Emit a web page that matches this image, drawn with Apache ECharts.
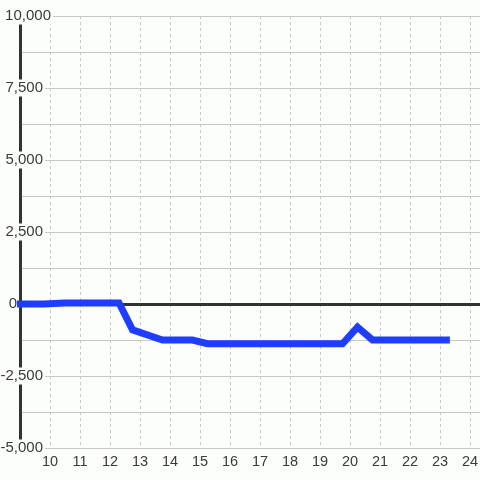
<!DOCTYPE html>
<html><head><meta charset="utf-8">
<script src="https://cdn.jsdelivr.net/npm/echarts@6/dist/echarts.min.js"></script>
<style>html,body{margin:0;padding:0;background:#fcfefc}#c{width:480px;height:480px}</style>
</head><body><div id="c"></div>
<script>
const xValues = [8.9, 9.8, 10.5, 12.3, 12.75, 13.75, 14.75, 15.25, 19.75, 20.25, 20.75, 23.33];
const yValues = [0, 0, 35, 35, -900, -1250, -1250, -1380, -1380, -800, -1250, -1250];
const yTickValues = [-5000, -2500, 0, 2500, 5000, 7500, 10000];
const yTickLabels = ['-5,000', '-2,500', '0', '2,500', '5,000', '7,500', '10,000'];

const bg = '#fcfefc';
const font = "'Liberation Sans', Arial, sans-serif";
const chart = echarts.init(document.getElementById('c'), null, {renderer: 'canvas'});
const rich = {
  t: {fontSize: 15, fontFamily: font, color: '#3a3a3a', backgroundColor: bg, padding: [1, 2, 1, 1]},
  s8: {width: 8, fontSize: 15, fontFamily: font},
  s36: {width: 34, fontSize: 15, fontFamily: font}
};
chart.setOption({
  backgroundColor: bg,
  animation: false,
  grid: {left: 20, right: 0, top: 16, bottom: 32, containLabel: false, outerBoundsMode: 'none'},
  xAxis: [{
    type: 'value', min: 9, max: 24.3333, interval: 1, position: 'bottom',
    axisLine: {show: false, onZero: false},
    axisTick: {show: false},
    axisLabel: {showMinLabel: false, showMaxLabel: false, margin: 6, fontSize: 14.5,
      fontFamily: font, color: '#3a3a3a'},
    splitLine: {show: true, lineStyle: {type: [3, 3], color: '#c8c8c8', width: 1}}
  }, {
    type: 'value', min: 9, max: 24.3333, interval: 1, position: 'bottom', z: 1.5,
    axisLine: {show: true, onZero: true, onZeroAxisIndex: 0, lineStyle: {color: '#333', width: 3}},
    axisTick: {show: false}, axisLabel: {show: false}, splitLine: {show: false}
  }],
  yAxis: {
    type: 'value', min: -5000, max: 10000, interval: 2500, z: 1,
    axisLine: {show: true, onZero: false, lineStyle: {color: '#333', width: 3}},
    axisTick: {show: false},
    minorTick: {show: false, splitNumber: 2},
    splitLine: {show: true, lineStyle: {color: '#c8c8c8', width: 1}},
    minorSplitLine: {show: true, lineStyle: {color: '#c8c8c8', width: 1}},
    axisLabel: {
      margin: -33,
      formatter: function (v) {
        const i = yTickValues.indexOf(v);
        const s = i >= 0 ? yTickLabels[i] : '';
        if (v === 10000) return '{t|' + s + '}';
        if (v === 0) return '{t|' + s + '}{s36| }';
        return '{t|' + s + '}{s8| }';
      },
      rich: rich
    }
  },
  series: [{
    type: 'line', xAxisIndex: 0, yAxisIndex: 0, clip: false,
    data: xValues.map((x, i) => [x, yValues[i]]),
    showSymbol: false, symbol: 'none',
    lineStyle: {color: '#1f3dff', width: 7, cap: 'butt', join: 'miter'},
    z: 3
  }]
});
</script></body></html>
